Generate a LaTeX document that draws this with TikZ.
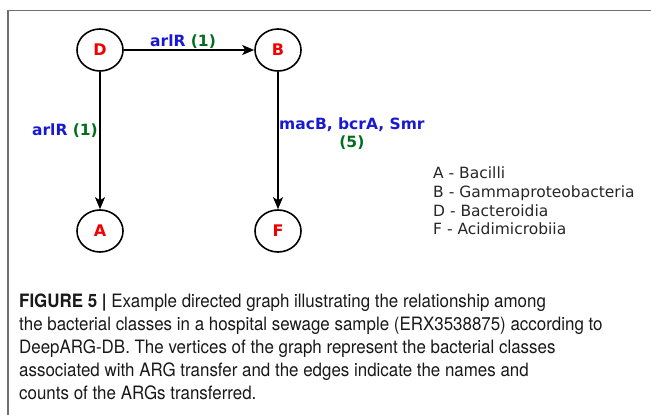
\documentclass[tikz,border=0pt]{standalone}
\usepackage{fontspec}
\usetikzlibrary{arrows.meta,shapes.geometric}
\setmainfont{DejaVu Sans}
\newfontfamily\capfont[FakeStretch=0.92]{TeX Gyre Heros}
\definecolor{genecol}{RGB}{25,25,210}
\definecolor{countcol}{RGB}{0,110,30}
\definecolor{vertcol}{RGB}{240,0,0}
\definecolor{framecol}{RGB}{110,110,110}
\tikzset{
  vertex/.style={draw=black, line width=1.6pt, ellipse, minimum width=46pt, minimum height=42pt,
    inner sep=0pt, font=\fontsize{16}{16}\selectfont\bfseries, text=vertcol},
  edge/.style={line width=1.6pt, -{Stealth[length=12pt,width=10pt,inset=3pt]}},
  elabel/.style={font=\fontsize{15.5}{18}\selectfont\bfseries, text=genecol, inner sep=0pt},
  legend/.style={font=\fontsize{15.5}{18}\selectfont, text=black!85, anchor=base west, inner sep=0pt},
  capline/.style={font=\capfont\fontsize{18.4}{22}\selectfont, text=black!90, anchor=base west, inner sep=0pt}
}
\begin{document}
\begin{tikzpicture}[x=1pt, y=-1pt]
\useasboundingbox (0,0) rectangle (651,415);
% outer frame (left and top rules)
\draw[framecol, line width=1.5pt] (8,416) -- (8,10.5) -- (652,10.5);

% vertices
\node[vertex] (D) at (100,50) {D};
\node[vertex] (B) at (278,50) {B};
\node[vertex] (A) at (100,231) {A};
\node[vertex] (F) at (278,231) {F};

% transfers
\draw[edge] (D) -- (B);
\draw[edge] (D) -- (A);
\draw[edge] (B) -- (F);

% edge labels
\node[elabel, anchor=base] (lDB) at (183,46) {arlR \textcolor{countcol}{(1)}};
\node[elabel, anchor=east] (lDA) at (98,131) {arlR \textcolor{countcol}{(1)}};
\node[elabel, anchor=west, align=center] (lBF) at (279,134) {macB, bcrA, Smr\\\textcolor{countcol}{(5)}};

% class legend
\node[legend] (kA) at (433,178) {A - Bacilli};
\node[legend] (kB) at (433,197) {B - Gammaproteobacteria};
\node[legend] (kD) at (433,216) {D - Bacteroidia};
\node[legend] (kF) at (433,234) {F - Acidimicrobiia};

% caption
\node[capline] (c1) at (19,307) {\textbf{FIGURE 5 |} Example directed graph illustrating the relationship among};
\node[capline] (c2) at (19,330) {the bacterial classes in a hospital sewage sample (ERX3538875) according to};
\node[capline] (c3) at (19,353) {DeepARG-DB. The vertices of the graph represent the bacterial classes};
\node[capline] (c4) at (19,376) {associated with ARG transfer and the edges indicate the names and};
\node[capline] (c5) at (19,399) {counts of the ARGs transferred.};
\end{tikzpicture}
\end{document}
